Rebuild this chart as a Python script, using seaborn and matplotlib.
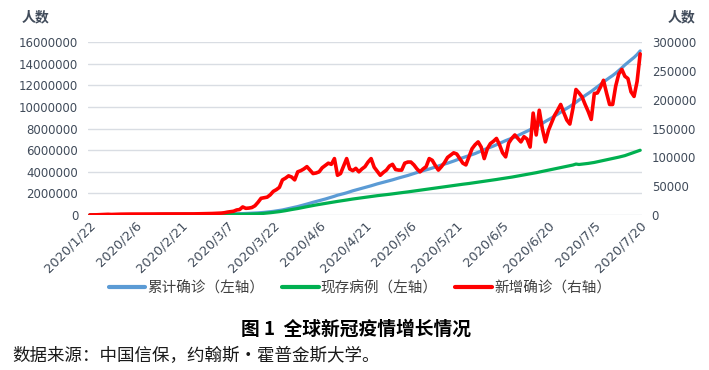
import matplotlib
matplotlib.use('Agg')
import matplotlib.pyplot as plt
import matplotlib.transforms as mtransforms
from matplotlib.ticker import FixedLocator
import numpy as np
import pandas as pd
import seaborn as sns

# daily data 2020/1/22 - 2020/7/20
dates = pd.date_range('2020-01-22', '2020-07-20', freq='D')

cum_confirmed = [
    555, 654, 941, 1434, 2118, 2927, 5578, 6166, 8234, 9927,
    12038, 16787, 19887, 23898, 27643, 30802, 34395, 37129, 40160, 42769,
    44811, 45229, 60381, 66909, 69052, 71235, 73270, 75152, 75652, 76212,
    76841, 78602, 78982, 79546, 80399, 81376, 82736, 84122, 86011, 88369,
    90306, 92840, 95120, 97886, 101801, 105847, 109821, 113590, 118620, 125875,
    128352, 145205, 156101, 167454, 181574, 197102, 214821, 242570, 272208, 304507,
    336953, 378235, 418045, 467653, 529591, 593291, 660706, 720117, 782365, 857487,
    932605, 1013157, 1095917, 1176060, 1249754, 1321481, 1396476, 1480202, 1565278, 1657526,
    1735650, 1834721, 1904838, 1976191, 2056054, 2152437, 2240190, 2317758, 2401378, 2472259,
    2549123, 2624090, 2708403, 2795736, 2881140, 2955033, 3023722, 3097229, 3172287, 3256846,
    3343777, 3427584, 3506729, 3583055, 3662691, 3755341, 3845718, 3938064, 4024009, 4101699,
    4177502, 4261747, 4347018, 4442163, 4542347, 4634068, 4713620, 4801943, 4897492, 4996472,
    5102424, 5210817, 5310362, 5407613, 5495061, 5589626, 5691790, 5808946, 5930565, 6059017,
    6166946, 6265852, 6386044, 6508635, 6632985, 6764300, 6891208, 6999574, 7101474, 7222567,
    7360239, 7493444, 7631339, 7766952, 7900924, 8034461, 8173940, 8349950, 8488976, 8668121,
    8824078, 8985000, 9160000, 9340000, 9530000, 9710000, 9880000, 10050000, 10240000, 10450000,
    10660000, 10870000, 11070000, 11260000, 11450000, 11660000, 11870000, 12090000, 12320000, 12530000,
    12730000, 12920000, 13140000, 13380000, 13630000, 13900000, 14140000, 14370000, 14600000, 14870000,
    15200000,
]

active_cases = [
    510, 610, 880, 1370, 2030, 2820, 5440, 5960, 7950, 9540,
    11500, 15900, 18800, 22400, 25500, 27900, 30600, 32500, 34100, 35500,
    36500, 35900, 48500, 51300, 51800, 52100, 52100, 51900, 49800, 48100,
    46600, 45900, 44100, 42400, 41000, 39300, 38200, 37200, 37100, 37700,
    37700, 38600, 39500, 41200, 43900, 45900, 48700, 52000, 55400, 60800,
    60900, 74500, 82300, 90400, 100700, 113500, 127900, 152700, 180300, 209500,
    240000, 275000, 310000, 350000, 400000, 455000, 505000, 550000, 600000, 660000,
    715000, 770000, 825000, 880000, 930000, 975000, 1020000, 1070000, 1120000, 1170000,
    1210000, 1260000, 1300000, 1340000, 1390000, 1440000, 1480000, 1520000, 1560000, 1600000,
    1630000, 1670000, 1710000, 1750000, 1790000, 1820000, 1850000, 1880000, 1920000, 1960000,
    2000000, 2040000, 2070000, 2100000, 2140000, 2180000, 2220000, 2260000, 2300000, 2330000,
    2370000, 2410000, 2450000, 2490000, 2530000, 2570000, 2610000, 2650000, 2690000, 2730000,
    2770000, 2810000, 2850000, 2880000, 2920000, 2960000, 3000000, 3050000, 3090000, 3130000,
    3170000, 3210000, 3250000, 3290000, 3340000, 3380000, 3420000, 3460000, 3510000, 3560000,
    3610000, 3660000, 3710000, 3760000, 3810000, 3860000, 3920000, 3980000, 4040000, 4100000,
    4160000, 4210000, 4270000, 4330000, 4390000, 4450000, 4510000, 4570000, 4630000, 4720000,
    4680000, 4710000, 4740000, 4780000, 4820000, 4870000, 4930000, 4990000, 5050000, 5110000,
    5170000, 5230000, 5290000, 5360000, 5430000, 5500000, 5600000, 5690000, 5790000, 5900000,
    6000000,
]

new_confirmed = [
    100, 100, 290, 490, 680, 810, 1200, 900, 1100, 1300,
    1400, 1500, 1500, 1600, 1600, 1600, 1700, 1700, 1700, 1700,
    1700, 1700, 1800, 1800, 1800, 1800, 1800, 1800, 1800, 1800,
    1800, 1900, 1900, 1900, 1900, 2000, 2000, 2100, 2200, 2400,
    2600, 2800, 3000, 3300, 3900, 5000, 5700, 6500, 8700, 9500,
    14000, 11600, 12000, 13000, 16000, 22000, 29000, 30000, 31000, 35000,
    41000, 44000, 48000, 61000, 64000, 68000, 66000, 61000, 75000, 77000,
    80000, 84000, 78000, 72000, 73000, 75000, 82000, 86000, 90000, 88000,
    98000, 69000, 72000, 85000, 98000, 80000, 77000, 81000, 75000, 80000,
    84000, 92000, 98000, 83000, 76000, 69000, 74000, 78000, 85000, 88000,
    79000, 78000, 78000, 90000, 92000, 92000, 87000, 80000, 75000, 80000,
    84000, 98000, 95000, 86000, 78000, 84000, 91000, 100000, 104000, 108000,
    106000, 98000, 90000, 87000, 101000, 115000, 122000, 127000, 118000, 98000,
    115000, 124000, 128000, 133000, 122000, 108000, 101000, 125000, 133000, 139000,
    133000, 127000, 136000, 132000, 118000, 177000, 139000, 182000, 150000, 127000,
    147000, 160000, 173000, 182000, 192000, 178000, 165000, 158000, 185000, 218000,
    212000, 205000, 192000, 180000, 166000, 211000, 212000, 222000, 234000, 212000,
    192000, 192000, 224000, 245000, 253000, 241000, 237000, 214000, 206000, 232000,
    280000,
]

left_ticks = [0, 2000000, 4000000, 6000000, 8000000, 10000000, 12000000, 14000000, 16000000]
right_ticks = [0, 50000, 100000, 150000, 200000, 250000, 300000]
legend_labels = ['累计确诊（左轴）', '现存病例（左轴）', '新增确诊（右轴）']

df = pd.DataFrame({
    'day': np.arange(len(dates)),
    'cum': cum_confirmed,
    'active': active_cases,
    'new': new_confirmed,
})

sns.set_theme(style='white')
plt.rcParams['font.family'] = ['Noto Sans CJK SC', 'DejaVu Sans']

tick_color = '#404B5A'
W, H = 709, 370
fig = plt.figure(figsize=(W / 100, H / 100), dpi=100)
ax = fig.add_axes([88 / W, 1 - 215 / H, (642 - 88) / W, (215 - 42.3) / H])

sns.lineplot(data=df, x='day', y='cum', ax=ax, color='#5B9BD5', linewidth=2.3)
sns.lineplot(data=df, x='day', y='active', ax=ax, color='#00B050', linewidth=2.3)
ax2 = ax.twinx()
sns.lineplot(data=df, x='day', y='new', ax=ax2, color='#FF0000', linewidth=2.6)

ax.set_xlim(-0.6, len(dates) - 0.4)
ax.set_ylim(0, 16000000)
ax2.set_ylim(0, 300000)

ax.yaxis.set_major_locator(FixedLocator(left_ticks))
ax.set_yticklabels([str(v) for v in left_ticks])
ax2.yaxis.set_major_locator(FixedLocator(right_ticks))
ax2.set_yticklabels([str(v) for v in right_ticks])

xt = list(range(0, len(dates), 15))
ax.set_xticks(xt)
ax.set_xticklabels([f'{dates[i].year}/{dates[i].month}/{dates[i].day}' for i in xt],
                   rotation=45, ha='right', va='center', rotation_mode='anchor')

for a in (ax, ax2):
    a.set_xlabel('')
    a.set_ylabel('')
    for s in a.spines.values():
        s.set_visible(False)
    a.tick_params(length=0, colors=tick_color, labelsize=8.5)
    for lab in a.get_xticklabels() + a.get_yticklabels():
        lab.set_fontfamily('DejaVu Sans')

ax.tick_params(axis='y', pad=7)
ax2.tick_params(axis='y', pad=7)
ax.tick_params(axis='x', pad=6, labelsize=9.3)

# nudge the rotated date labels a few pixels right, as in the original
shift = mtransforms.ScaledTranslation(4 / 100, 0, fig.dpi_scale_trans)
for lab in ax.get_xticklabels():
    lab.set_transform(lab.get_transform() + shift)

ax.yaxis.grid(True, color='#D9DDE3', linewidth=1)
ax.set_axisbelow(True)

fig.text(36 / W, 1 - 17 / H, '人数', ha='center', va='center', fontsize=10,
         fontweight='bold', color=tick_color)
fig.text(682 / W, 1 - 17 / H, '人数', ha='center', va='center', fontsize=10,
         fontweight='bold', color=tick_color)

handles = [ax.lines[0], ax.lines[1], ax2.lines[0]]
leg = fig.legend(handles, legend_labels, loc='center', bbox_to_anchor=(360 / W, 1 - 288 / H),
                 ncol=3, frameon=False, fontsize=10.5, handlelength=2.5,
                 handletextpad=0.15, columnspacing=1.2)
for t in leg.get_texts():
    t.set_color('#404040')
for l in leg.get_lines():
    l.set_linewidth(3)

fig.text(356 / W, 1 - 329 / H, '图 1  全球新冠疫情增长情况', ha='center', va='center',
         fontsize=13.5, fontweight='bold', color='black')
fig.text(12 / W, 1 - 356 / H, '数据来源：中国信保，约翰斯•霍普金斯大学。', ha='left', va='center',
         fontsize=12.6, color='#1A1A1A')

fig.savefig('out.png', dpi=100)
